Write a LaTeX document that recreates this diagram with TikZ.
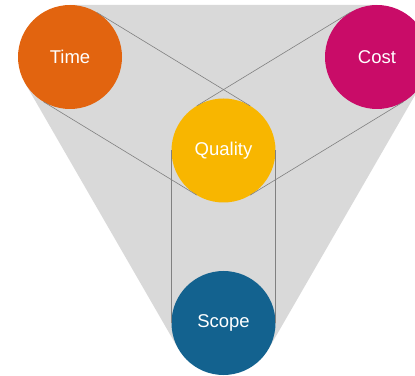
\documentclass[tikz,border=0pt]{standalone}
\usepackage{fontspec}
\setmainfont{Liberation Sans}
\usetikzlibrary{backgrounds}

\definecolor{timecol}{RGB}{226,100,15}
\definecolor{costcol}{RGB}{201,12,104}
\definecolor{qualcol}{RGB}{248,182,0}
\definecolor{scopecol}{RGB}{19,98,143}
\definecolor{hullgray}{RGB}{217,217,217}
\definecolor{linkgray}{RGB}{128,128,128}

\tikzset{
  goal/.style={circle, minimum size=104pt, inner sep=0pt, outer sep=0pt,
    text=white, font=\fontsize{18.5}{18.5}\selectfont},
  link/.style={draw=linkgray, line width=0.6pt}
}

\begin{document}
\begin{tikzpicture}[x=1pt,y=1pt]
\clip (0,0) rectangle (415,375);

\node[goal, fill=timecol] (time) at (70,318) {Time};
\node[goal, fill=costcol] (cost) at (377,318) {Cost};
\node[goal, fill=qualcol] (quality) at (223.5,224.5) {Quality};
\node[goal, fill=scopecol] (scope) at (223.5,52) {Scope};

% tangents quality <-> others
\draw[link] (time.59) -- (quality.59);
\draw[link] (time.-121) -- (quality.-121);
\draw[link] (cost.121) -- (quality.121);
\draw[link] (cost.-59) -- (quality.-59);
\draw[link] (quality.180) -- (scope.180);
\draw[link] (quality.0) -- (scope.0);

\begin{scope}[on background layer]
\fill[hullgray] (time.90) -- (cost.90) -- (cost.-30) -- (scope.-30)
  -- (scope.210) -- (time.210) -- cycle;
\end{scope}
\end{tikzpicture}
\end{document}
